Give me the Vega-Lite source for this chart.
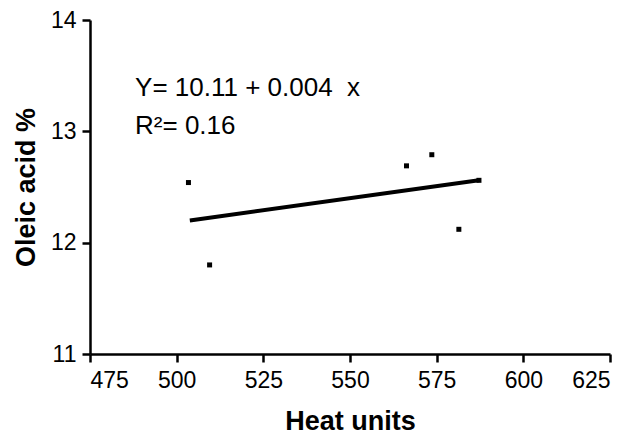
{
  "$schema": "https://vega.github.io/schema/vega-lite/v6.json",
  "width": 520,
  "height": 334,
  "autosize": {"type": "none"},
  "padding": {"left": 90, "top": 20, "right": 23, "bottom": 82},
  "background": "white",
  "config": {
    "view": {"stroke": null},
    "font": "Liberation Sans",
    "axis": {
      "grid": false,
      "domainColor": "black",
      "domainWidth": 2.5,
      "tickColor": "black",
      "tickWidth": 2.5,
      "tickSize": 8,
      "labelColor": "black",
      "labelFont": "Liberation Sans",
      "labelFontSize": 23,
      "titleColor": "black",
      "titleFont": "Liberation Sans",
      "titleFontSize": 27,
      "titleFontWeight": "bold"
    }
  },
  "datasets": {
    "points": [
      {"heat": 503.4, "oleic": 12.54},
      {"heat": 509.5, "oleic": 11.80},
      {"heat": 566.3, "oleic": 12.69},
      {"heat": 573.6, "oleic": 12.79},
      {"heat": 581.4, "oleic": 12.12},
      {"heat": 587.2, "oleic": 12.56}
    ],
    "fit": [
      {"heat": 503.8, "oleic": 12.20},
      {"heat": 587.2, "oleic": 12.56}
    ],
    "notes": [
      {"heat": 488, "oleic": 13.39, "label": "Y= 10.11 + 0.004\u00a0\u00a0x"},
      {"heat": 488, "oleic": 13.05, "label": "R²= 0.16"}
    ]
  },
  "encoding": {
    "x": {
      "field": "heat", "type": "quantitative",
      "scale": {"domain": [475, 625], "nice": false, "zero": false},
      "axis": {"values": [475, 500, 525, 550, 575, 600, 625], "title": "Heat units", "labelPadding": 7, "titlePadding": 16}
    },
    "y": {
      "field": "oleic", "type": "quantitative",
      "scale": {"domain": [11, 14], "nice": false, "zero": false},
      "axis": {"values": [11, 12, 13, 14], "title": "Oleic acid %", "labelPadding": 6, "titlePadding": 10}
    }
  },
  "layer": [
    {
      "data": {"name": "fit"},
      "mark": {"type": "line", "color": "black", "strokeWidth": 4}
    },
    {
      "data": {"name": "points"},
      "mark": {"type": "point", "shape": "square", "filled": true, "color": "black", "size": 25, "opacity": 1}
    },
    {
      "data": {"name": "notes"},
      "mark": {"type": "text", "align": "left", "baseline": "middle", "fontSize": 26, "color": "black", "font": "Liberation Sans"},
      "encoding": {"text": {"field": "label"}}
    }
  ]
}
